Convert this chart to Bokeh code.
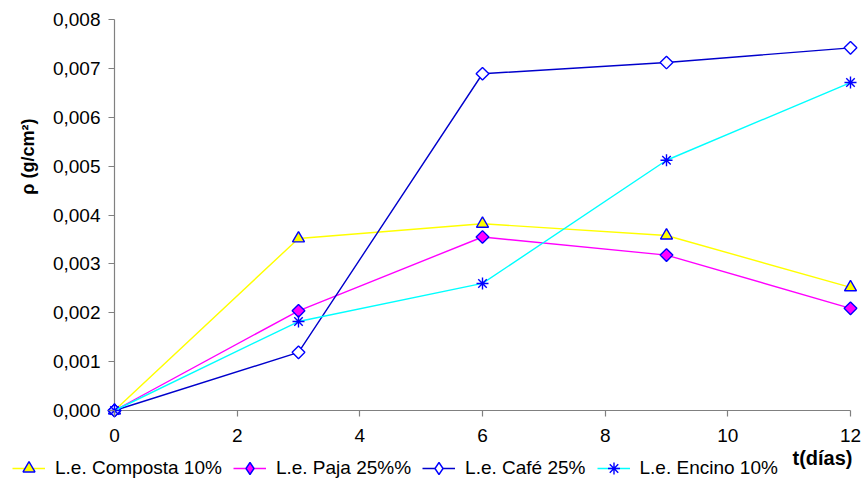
import numpy as np
from bokeh.plotting import figure
from bokeh.layouts import column
from bokeh.models import FixedTicker, Legend, LegendItem, Range1d, Label, Title
from bokeh.embed import file_html
from bokeh.resources import INLINE

# ---- data ----
dias = [0, 3, 6, 9, 12]
composta = [0.0, 0.00352, 0.00382, 0.00358, 0.00252]
paja = [0.0, 0.00204, 0.00355, 0.00318, 0.00209]
cafe = [0.0, 0.00119, 0.00689, 0.00712, 0.00742]
encino = [0.0, 0.00182, 0.00260, 0.00512, 0.00671]

series_names = ["L.e. Composta 10%", "L.e. Paja 25%%", "L.e. Café 25%", "L.e. Encino 10%"]
x_ticks = [0, 2, 4, 6, 8, 10, 12]
y_ticks = [0.0, 0.001, 0.002, 0.003, 0.004, 0.005, 0.006, 0.007, 0.008]
y_tick_labels = ["0,000", "0,001", "0,002", "0,003", "0,004", "0,005", "0,006", "0,007", "0,008"]
x_title = "t(días)"
y_title = "ρ (g/cm²)"

FONT = "Liberation Sans"
AXIS_COLOR = "#808080"
W = 863
H_MAIN = 448
H_LEG = 486 - H_MAIN

# pixel padding so edge markers are not clipped by the frame
pad_px = 8
x_px_per = (850 - 114) / 12.0
y_px_per = (410 - 19) / 0.008
x_pad = pad_px / x_px_per
y_pad = pad_px / y_px_per

p = figure(width=W, height=H_MAIN, output_backend="svg", toolbar_location=None,
           x_range=Range1d(x_ticks[0] - x_pad, x_ticks[-1] + x_pad),
           y_range=Range1d(y_ticks[0] - y_pad, y_ticks[-1] + y_pad),
           min_border_left=114 - pad_px, min_border_right=W - 850 - pad_px,
           min_border_top=19 - pad_px, min_border_bottom=H_MAIN - (410 + pad_px))
p.outline_line_color = None
p.grid.grid_line_color = None
p.background_fill_color = "white"
p.border_fill_color = "white"

# axis lines drawn at the data origin (from the tick arrays)
p.segment(x0=[x_ticks[0]], y0=[y_ticks[0]], x1=[x_ticks[-1]], y1=[y_ticks[0]],
          line_color=AXIS_COLOR, line_width=1.2)
p.segment(x0=[x_ticks[0]], y0=[y_ticks[0]], x1=[x_ticks[0]], y1=[y_ticks[-1]],
          line_color=AXIS_COLOR, line_width=1.2)

# axes (ticks shifted so that they start at the data origin)
xa = p.xaxis[0]
xa.ticker = FixedTicker(ticks=x_ticks)
xa.axis_line_color = None
xa.major_tick_line_color = AXIS_COLOR
xa.major_tick_line_width = 1.2
xa.major_tick_in = pad_px
xa.major_tick_out = -2
xa.minor_tick_line_color = None
xa.major_label_text_font = FONT
xa.major_label_text_font_size = "19px"
xa.major_label_text_color = "black"
xa.major_label_standoff = 10

ya = p.yaxis[0]
ya.ticker = FixedTicker(ticks=y_ticks)
ya.major_label_overrides = {v: s for v, s in zip(y_ticks, y_tick_labels)}
ya.axis_line_color = None
ya.major_tick_line_color = AXIS_COLOR
ya.major_tick_line_width = 1.2
ya.major_tick_in = pad_px
ya.major_tick_out = -2
ya.minor_tick_line_color = None
ya.major_label_text_font = FONT
ya.major_label_text_font_size = "19px"
ya.major_label_text_color = "black"
ya.major_label_standoff = 6

# y title placed towards the top of the left side
p.add_layout(Title(text=y_title, align="right", offset=118 - (19 - pad_px), standoff=19,
                   vertical_align="top",
                   text_font=FONT, text_font_size="18px", text_font_style="bold",
                   text_color="black"), "left")

# legend strip (second figure, whole canvas is its frame)
p2 = figure(width=W, height=H_LEG, output_backend="svg", toolbar_location=None,
            x_range=Range1d(0, W), y_range=Range1d(0, H_LEG),
            x_axis_type=None, y_axis_type=None,
            min_border_left=0, min_border_right=0, min_border_top=0, min_border_bottom=0)
p2.outline_line_color = None
p2.grid.grid_line_color = None
p2.background_fill_color = "white"
p2.border_fill_color = "white"

for fig in (p, p2):
    try:
        fig.frame_align = False
    except Exception:
        pass

specs = [
    (composta, "#FFFF00", "triangle", "triangle", "#FFFF00", 12, 0.0),
    (paja, "#FF00FF", "square", "diamond", "#FF00FF", 9, np.pi / 4),
    (cafe, "#0000CC", "square", "diamond", "white", 9, np.pi / 4),
    (encino, "#00FFFF", "asterisk", "asterisk", "#0000FF", 12, 0.0),
]
items = []
for name, (vals, lcol, mk, lmk, fcol, sz, ang) in zip(series_names, specs):
    p.line(dias, vals, line_color=lcol, line_width=1.4)
    p.scatter(dias, vals, marker=mk, size=sz, angle=ang,
              fill_color=fcol, line_color="#0000FF", line_width=1.4)
    # legend proxies (hidden) in the strip figure
    l2 = p2.line(dias, vals, line_color=lcol, line_width=1.4, visible=False)
    s2 = p2.scatter(dias, vals, marker=lmk, size=sz,
                    fill_color=fcol, line_color="#0000FF", line_width=1.4, visible=False)
    items.append(LegendItem(label=name, renderers=[l2, s2]))

legend = Legend(items=items, orientation="horizontal", location=(12, 3),
                glyph_width=33, glyph_height=30, label_standoff=10, spacing=11,
                padding=0, margin=0, border_line_color=None,
                background_fill_alpha=0,
                label_text_font=FONT, label_text_font_size="19px",
                label_text_color="black")
p2.add_layout(legend, "center")

p2.add_layout(Label(x=852, y=486 - 462 + 5, text=x_title, text_align="right",
                    text_baseline="alphabetic",
                    text_font=FONT, text_font_size="20px", text_font_style="bold",
                    text_color="black"))

layout = column(p, p2, spacing=0)
open("out.html", "w").write(file_html(layout, INLINE))
